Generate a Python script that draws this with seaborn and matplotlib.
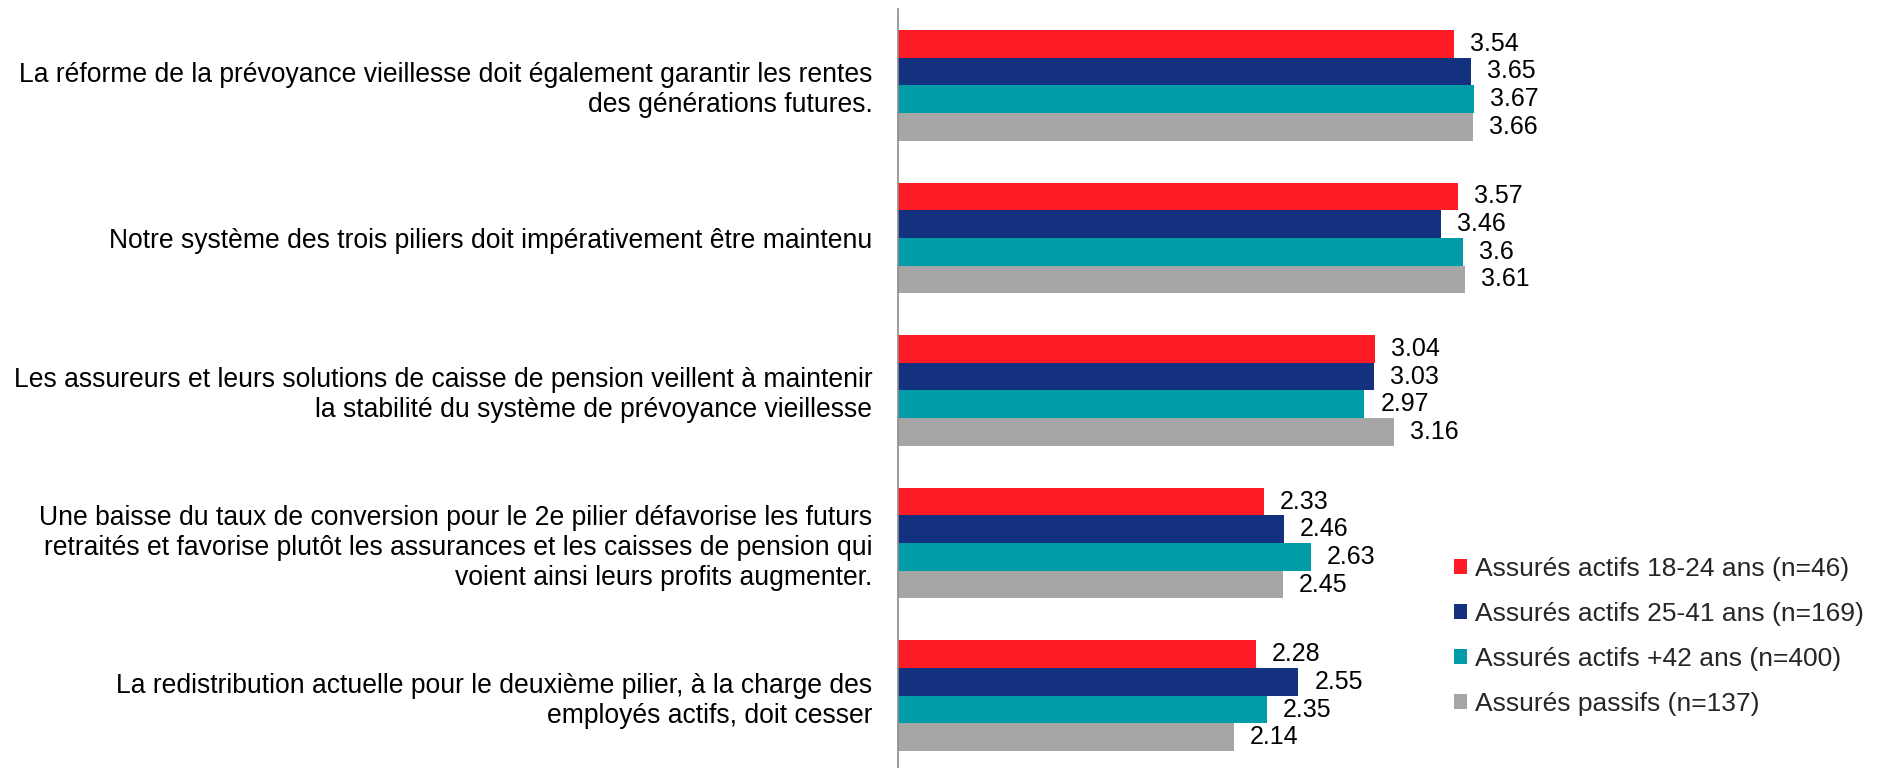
import matplotlib
matplotlib.use("Agg")
import matplotlib.pyplot as plt
import seaborn as sns
import pandas as pd
import numpy as np

categories = [
    "La réforme de la prévoyance vieillesse doit également garantir les rentes\ndes générations futures.",
    "Notre système des trois piliers doit impérativement être maintenu",
    "Les assureurs et leurs solutions de caisse de pension veillent à maintenir\nla stabilité du système de prévoyance vieillesse",
    "Une baisse du taux de conversion pour le 2e pilier défavorise les futurs\nretraités et favorise plutôt les assurances et les caisses de pension qui\nvoient ainsi leurs profits augmenter.",
    "La redistribution actuelle pour le deuxième pilier, à la charge des\nemployés actifs, doit cesser",
]
series = [
    "Assurés actifs 18-24 ans (n=46)",
    "Assurés actifs 25-41 ans (n=169)",
    "Assurés actifs +42 ans (n=400)",
    "Assurés passifs (n=137)",
]
actifs_18_24 = [3.54, 3.57, 3.04, 2.33, 2.28]
actifs_25_41 = [3.65, 3.46, 3.03, 2.46, 2.55]
actifs_42 = [3.67, 3.60, 2.97, 2.63, 2.35]
passifs = [3.66, 3.61, 3.16, 2.45, 2.14]
colors = ["#FE1B26", "#14317F", "#029CA8", "#A6A6A6"]

rows = []
for s, vals in zip(series, [actifs_18_24, actifs_25_41, actifs_42, passifs]):
    for c, v in zip(categories, vals):
        rows.append({"cat": c, "serie": s, "val": v})
df = pd.DataFrame(rows)

sns.set_style("white")
plt.rcParams["font.family"] = ["Liberation Sans", "DejaVu Sans"]

W, H = 1881, 768
fig = plt.figure(figsize=(W / 100, H / 100), dpi=100)
left_px = 898
top_px = 9
cat_px = 152.6
bottom_px = top_px + 5 * cat_px
ax = fig.add_axes([left_px / W, (H - bottom_px) / H, (W - left_px) / W, (bottom_px - top_px) / H])

sns.barplot(data=df, y="cat", x="val", hue="serie", hue_order=series,
            order=categories, palette=colors, width=0.725, orient="h",
            linewidth=0, saturation=1, errorbar=None, ax=ax, legend=False)

px_per_unit = 157.0
ax.set_xlim(0, (W - left_px) / px_per_unit)
ax.set_ylim(4.5, -0.5)

for cont in ax.containers:
    labels = ax.bar_label(cont, fmt="%g", padding=11.5, fontsize=18, color="black")
    for t in labels:
        t.set_y(t.get_position()[1])
        t.set_va("center")
        t.set_transform(t.get_transform() + matplotlib.transforms.ScaledTranslation(0, -2 / 100, fig.dpi_scale_trans))

ax.set_xlabel("")
ax.set_ylabel("")
ax.set_xticks([])
for sp in ["top", "right", "bottom"]:
    ax.spines[sp].set_visible(False)
ax.spines["left"].set_color("#8C8C8C")
ax.spines["left"].set_linewidth(1.2)

ax.set_yticks(range(len(categories)))
ax.set_yticklabels(categories, fontsize=19.1, color="black", linespacing=1.2)
ax.tick_params(axis="y", which="major", length=0, pad=18.5)
ax.set_yticks(np.arange(-0.5, len(categories) + 0.5, 1.0), minor=True)
ax.tick_params(axis="y", which="minor", length=5, width=1.2, color="#8C8C8C")

handles = [plt.Rectangle((0, 0), 1, 1, facecolor=c, edgecolor="none") for c in colors]
fig.legend(handles, series, loc="upper left", bbox_to_anchor=(1454 / W, 1 - 557 / H),
           frameon=False, fontsize=19, handlelength=0.5, handleheight=0.5,
           handletextpad=0.3, labelspacing=0.79, borderpad=0, borderaxespad=0)

fig.savefig("out.png", dpi=100)
